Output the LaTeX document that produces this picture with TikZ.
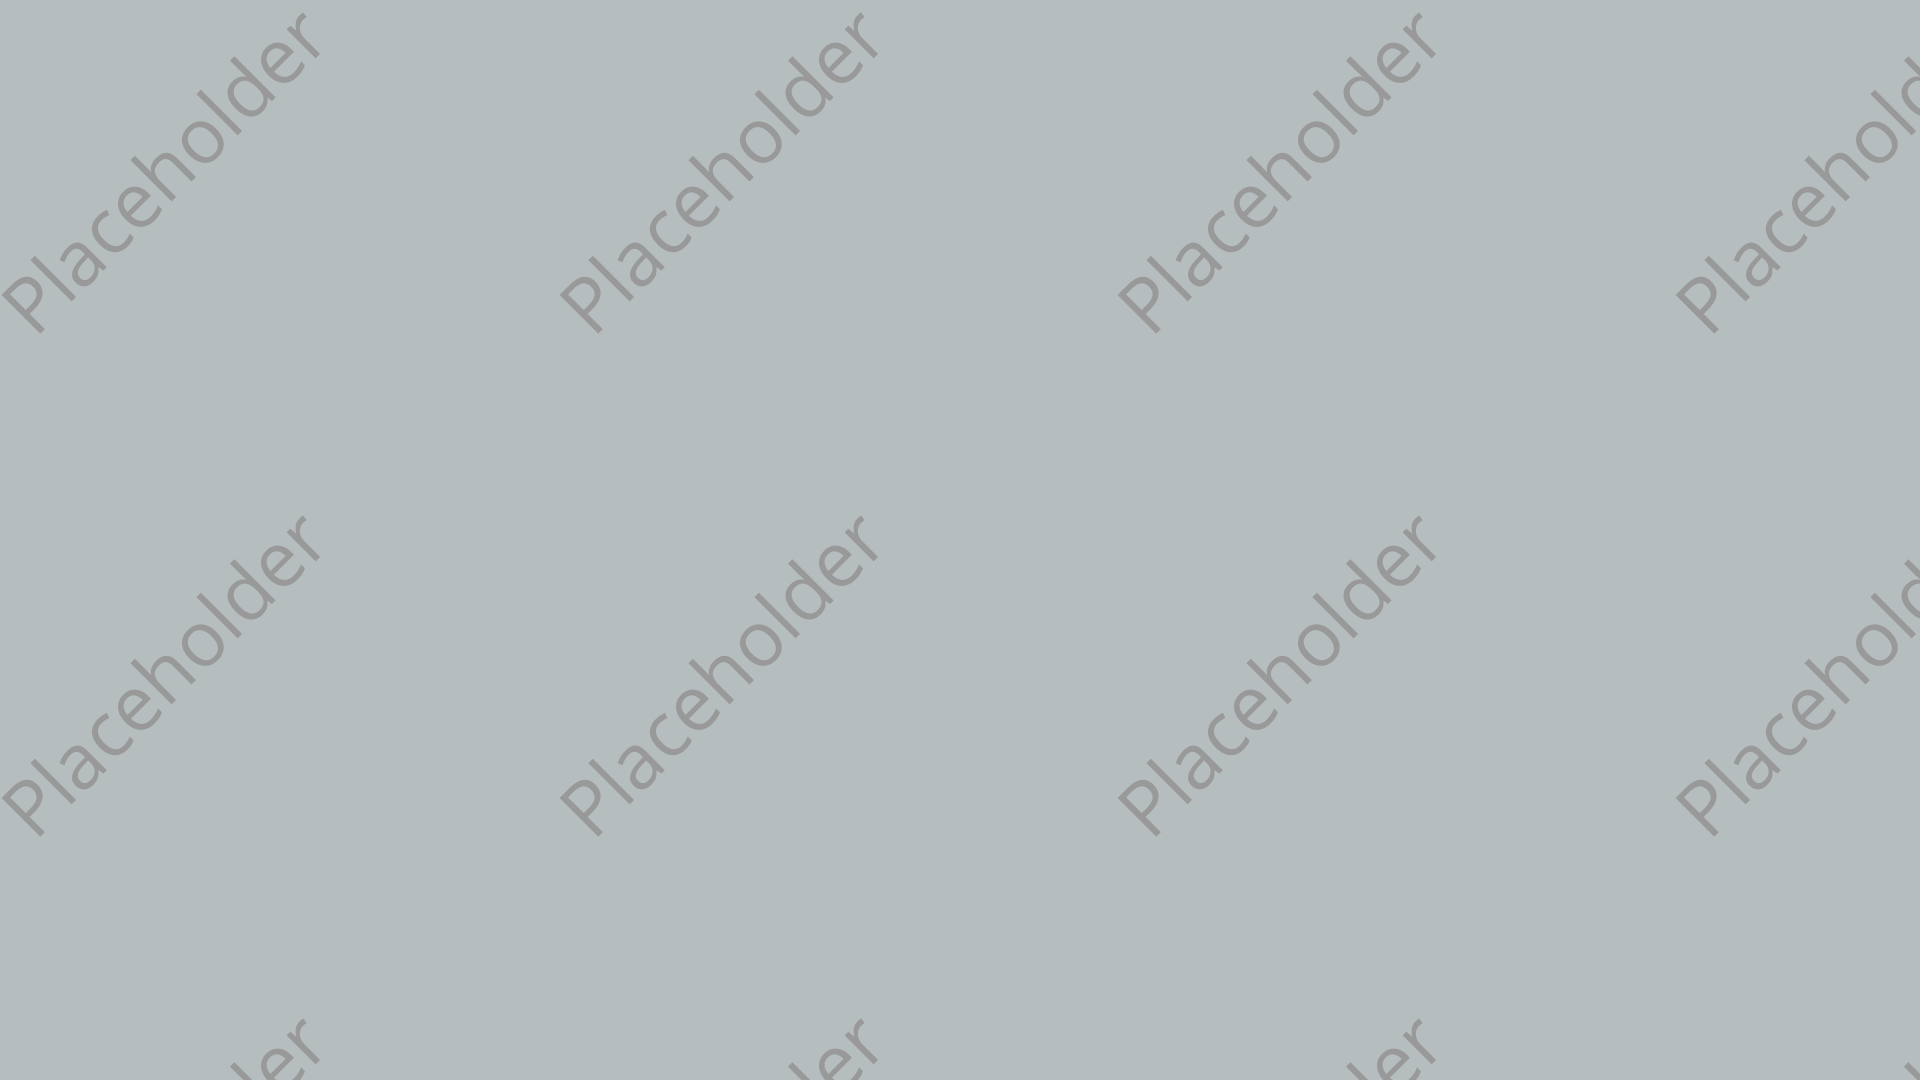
\documentclass[tikz,border=0pt]{standalone}
\usepackage{fontspec}
\setmainfont{Open Sans}
\definecolor{backgray}{RGB}{181,189,190}
\definecolor{markgray}{RGB}{153,153,153}
\tikzstyle{mark text} = [text=markgray, rotate=45, inner sep=0pt,
    font=\fontsize{21.8pt}{26pt}\selectfont]

\begin{document}
\begin{tikzpicture}[x=0.01cm, y=0.01cm]

		\useasboundingbox (0,0) rectangle (1920,1080);
		\clip (0,0) rectangle (1920,1080);
		\fill [backgray] (0,0) rectangle (1920,1080);

		% top row
		\node [mark text] (top1) at (164,910) {Placeholder};
		\node [mark text] (top2) at (722,910) {Placeholder};
		\node [mark text] (top3) at (1280,910) {Placeholder};
		\node [mark text] (top4) at (1838,910) {Placeholder};

		% middle row
		\node [mark text] (mid1) at (164,407) {Placeholder};
		\node [mark text] (mid2) at (722,407) {Placeholder};
		\node [mark text] (mid3) at (1280,407) {Placeholder};
		\node [mark text] (mid4) at (1838,407) {Placeholder};

		% bottom row, cut off
		\node [mark text] (low1) at (164,-96) {Placeholder};
		\node [mark text] (low2) at (722,-96) {Placeholder};
		\node [mark text] (low3) at (1280,-96) {Placeholder};
		\node [mark text] (low4) at (1838,-96) {Placeholder};
	\end{tikzpicture}
\end{document}
